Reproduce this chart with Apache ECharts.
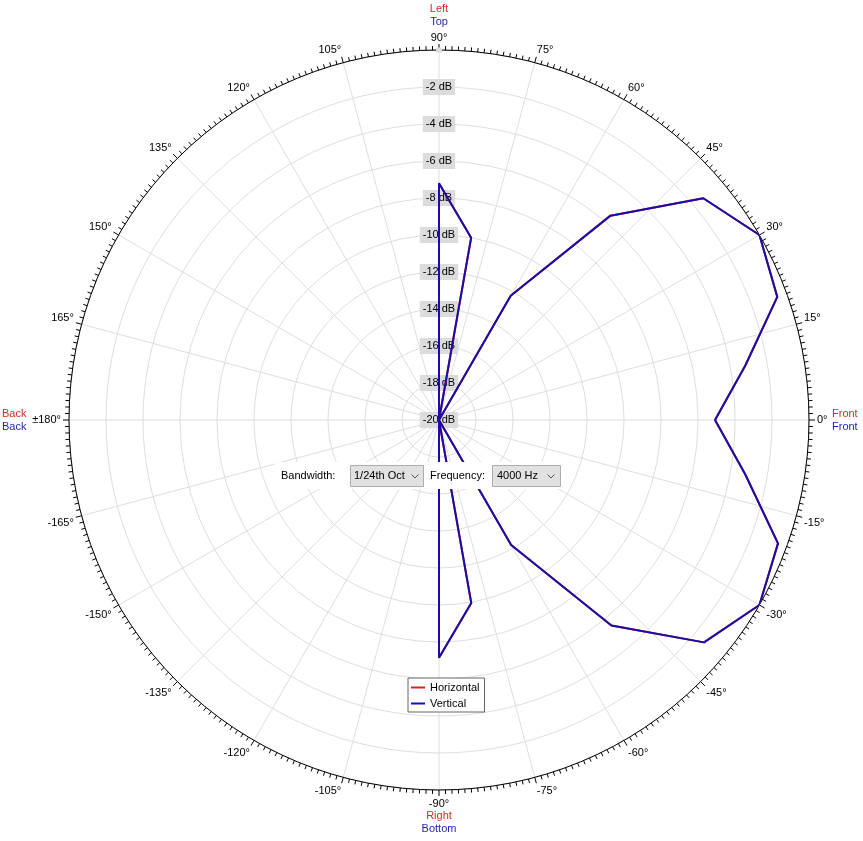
<!DOCTYPE html>
<html>
<head>
<meta charset="utf-8">
<script src="https://cdn.jsdelivr.net/npm/echarts@6/dist/echarts.min.js"></script>
<style>
html,body{margin:0;padding:0;background:#fff;}
#chart{width:863px;height:841px;}
</style>
</head>
<body>
<div id="chart"></div>
<script>
// Measurement angles (degrees, 0 = front, 90 = top/left)
const angles = [-180,-170,-160,-150,-140,-130,-120,-110,-100,-90,-80,-70,-60,-50,-40,-30,-20,-10,0,
                10,20,30,40,50,60,70,80,90,100,110,120,130,140,150,160,170,180];
// Level in dB (clipped at -20 dB floor)
const horizontalDb = [-20,-20,-20,-20,-20,-20,-20,-20,-20,-7.15,-9.95,-20,-12.2,-5.5,-1.3,0,-0.5,-3.2,-5.08,
                      -3.2,-0.54,0,-1.35,-5.58,-12.25,-20,-10,-7.2,-20,-20,-20,-20,-20,-20,-20,-20,-20];
const verticalDb   = [-20,-20,-20,-20,-20,-20,-20,-20,-20,-7.15,-9.95,-20,-12.2,-5.5,-1.3,0,-0.5,-3.2,-5.08,
                      -3.2,-0.54,0,-1.35,-5.58,-12.25,-20,-10,-7.2,-20,-20,-20,-20,-20,-20,-20,-20,-20];
const radiusTicks = [-20,-18,-16,-14,-12,-10,-8,-6,-4,-2,0];
const angleTickLabels = [0,15,30,45,60,75,90,105,120,135,150,165,180,-165,-150,-135,-120,-105,-90,-75,-60,-45,-30,-15];

const FONT = 'Liberation Sans';
const FS = '11px ' + FONT;
const RED = '#d42a2a', BLUE = '#1f1fb4';

// angle axis runs 90..450 so that the radius axis sits on the top (90°) spoke
const toAxisAngle = a => (a < 90 ? a + 360 : a);
const mk = arr => arr.map((v, i) => [v, toAxisAngle(angles[i])]);

const chart = echarts.init(document.getElementById('chart'));
chart.setOption({
  animation: false,
  backgroundColor: '#fff',
  textStyle: {fontFamily: FONT},
  polar: {center: [439, 420], radius: 370},
  angleAxis: {
    type: 'value', min: 90, max: 450, interval: 15,
    startAngle: 90, clockwise: false,
    axisLine: {show: true, lineStyle: {color: '#000', width: 1}},
    axisTick: {show: true, inside: false, length: 6, lineStyle: {color: '#000'}},
    minorTick: {show: true, splitNumber: 15, length: 4, lineStyle: {color: '#000'}},
    splitLine: {show: true, lineStyle: {color: '#dedede', width: 1}},
    axisLabel: {show: false}
  },
  radiusAxis: {
    type: 'value', min: radiusTicks[0], max: radiusTicks[radiusTicks.length-1], interval: 2,
    axisLine: {show: false}, axisTick: {show: false},
    splitLine: {show: true, lineStyle: {color: '#dedede', width: 1}},
    axisLabel: {
      margin: 0, align: 'center', verticalAlign: 'middle', color: '#000', fontSize: 11, fontFamily: FONT,
      backgroundColor: '#dcdcdc', padding: [3, 3, 2, 3],
      formatter: v => (v === 0 ? '' : v + ' dB')
    }
  },
  legend: {
    data: ['Horizontal', 'Vertical'], orient: 'vertical',
    left: 408, top: 678, itemWidth: 14, itemHeight: 2, itemGap: 5,
    icon: 'rect', borderColor: '#666', borderWidth: 1, padding: [4, 5, 3, 3],
    backgroundColor: '#fff', z: 20,
    textStyle: {fontSize: 11, fontFamily: FONT, color: '#000'}, selectedMode: false
  },
  series: [
    {name: 'Horizontal', type: 'line', coordinateSystem: 'polar', data: mk(horizontalDb),
     showSymbol: false, symbol: 'none', lineStyle: {color: RED, width: 2}, itemStyle: {color: '#e02020'}, z: 2},
    {name: 'Vertical', type: 'line', coordinateSystem: 'polar', data: mk(verticalDb),
     showSymbol: false, symbol: 'none', lineStyle: {color: '#1a0ca8', width: 2}, itemStyle: {color: '#1010d0'}, z: 3}
  ]
});

// angle labels positioned just outside the outer ring, using the polar coordinate system
function px(r, a) {
  const p = chart.convertToPixel({polarIndex: 0}, [r, toAxisAngle(a)]);
  return p;
}
const labelGraphics = angleTickLabels.map(a => {
  const c = px(radiusTicks[0], a), o = px(radiusTicks[radiusTicks.length-1], a);
  const dx = o[0] - c[0], dy = o[1] - c[1];
  const len = Math.hypot(dx, dy);
  const ux = dx / len, uy = dy / len;
  const R = 8;
  const x = o[0] + ux * R, y = o[1] + uy * R;
  const align = ux > 0.01 ? 'left' : (ux < -0.01 ? 'right' : 'center');
  const valign = uy < -0.01 ? 'bottom' : (uy > 0.01 ? 'top' : 'middle');
  const txt = a === 180 ? '±180°' : a + '°';
  return {type: 'text', x: x, y: y + (valign === 'bottom' ? 1 : 0), z: 50,
          style: {text: txt, fill: '#000', font: FS, align: align, verticalAlign: valign}};
});

chart.setOption({
  graphic: labelGraphics.concat([
    {type: 'text', x: 439, y: 3, z: 50, style: {text: 'Left', fill: RED, font: FS, align: 'center'}},
    {type: 'text', x: 439, y: 16, z: 50, style: {text: 'Top', fill: BLUE, font: FS, align: 'center'}},
    {type: 'text', x: 2, y: 408, z: 50, style: {text: 'Back', fill: RED, font: FS}},
    {type: 'text', x: 2, y: 421, z: 50, style: {text: 'Back', fill: BLUE, font: FS}},
    {type: 'text', x: 832, y: 408, z: 50, style: {text: 'Front', fill: RED, font: FS}},
    {type: 'text', x: 832, y: 421, z: 50, style: {text: 'Front', fill: BLUE, font: FS}},
    {type: 'text', x: 439, y: 810, z: 50, style: {text: 'Right', fill: RED, font: FS, align: 'center'}},
    {type: 'text', x: 439, y: 823, z: 50, style: {text: 'Bottom', fill: BLUE, font: FS, align: 'center'}},
    // controls panel
    {type: 'rect', z: 100, shape: {x: 275, y: 462, width: 291, height: 27}, style: {fill: '#fff', stroke: null}},
    {type: 'text', z: 101, x: 281, y: 476, style: {text: 'Bandwidth:', fill: '#000', font: FS, verticalAlign: 'middle'}},
    {type: 'rect', z: 101, shape: {x: 350.5, y: 465.5, width: 73, height: 21}, style: {fill: '#e1e1e1', stroke: '#adadad'}},
    {type: 'text', z: 102, x: 354, y: 476, style: {text: '1/24th Oct', fill: '#000', font: FS, verticalAlign: 'middle'}},
    {type: 'polyline', z: 102, shape: {points: [[411.5, 474.5], [415, 478], [418.5, 474.5]]}, style: {stroke: '#555', fill: null, lineWidth: 1}},
    {type: 'text', z: 101, x: 430, y: 476, style: {text: 'Frequency:', fill: '#000', font: FS, verticalAlign: 'middle'}},
    {type: 'rect', z: 101, shape: {x: 492.5, y: 465.5, width: 68, height: 21}, style: {fill: '#e1e1e1', stroke: '#adadad'}},
    {type: 'text', z: 102, x: 497, y: 476, style: {text: '4000 Hz', fill: '#000', font: FS, verticalAlign: 'middle'}},
    {type: 'polyline', z: 102, shape: {points: [[547.5, 474.5], [551, 478], [554.5, 474.5]]}, style: {stroke: '#555', fill: null, lineWidth: 1}}
  ])
});
</script>
</body>
</html>
